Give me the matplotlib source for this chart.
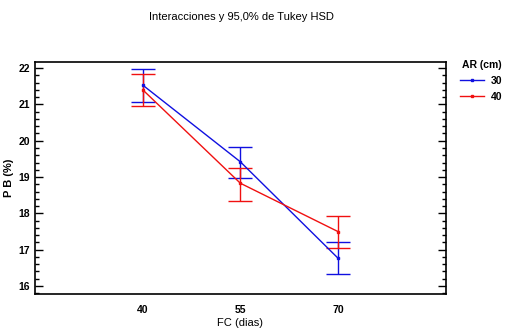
import matplotlib
matplotlib.use('Agg')
import matplotlib.pyplot as plt
from matplotlib.ticker import MultipleLocator
from matplotlib.lines import Line2D

plt.rcParams['font.family'] = ['Liberation Sans Narrow', 'Liberation Sans', 'DejaVu Sans']

fc = [40, 55, 70]
ar_labels = ['30', '40']
pb_30 = [21.53, 19.42, 16.77]
lo_30 = [21.08, 18.98, 16.33]
hi_30 = [21.98, 19.84, 17.22]
pb_40 = [21.40, 18.83, 17.50]
lo_40 = [20.96, 18.35, 17.05]
hi_40 = [21.83, 19.25, 17.94]
colors = ['#1010e0', '#f01010']

fig = plt.figure(figsize=(5.13, 3.32), dpi=100)
ax = fig.add_axes([0.068, 0.1145, 0.801, 0.699])

for pb, lo, hi, col in [(pb_30, lo_30, hi_30, colors[0]),
                        (pb_40, lo_40, hi_40, colors[1])]:
    err = [[p - l for p, l in zip(pb, lo)], [h - p for p, h in zip(pb, hi)]]
    ax.errorbar(fc, pb, yerr=err, color=col, lw=1, marker='s', ms=2,
                capsize=8.5, capthick=1, elinewidth=1)

ax.set_xlim(23.4, 86.6)
ax.set_ylim(15.78, 22.17)
ax.set_xticks(fc)
ax.yaxis.set_major_locator(MultipleLocator(1))
ax.yaxis.set_minor_locator(MultipleLocator(0.2))
ax.tick_params(axis='y', which='both', direction='in', left=True, right=True,
               labelsize=7.5, width=1)
ax.tick_params(axis='y', which='major', length=6)
ax.tick_params(axis='y', which='minor', length=3)
ax.tick_params(axis='x', length=0, labelsize=7.5, pad=8)
for t in ax.get_yticklabels() + ax.get_xticklabels():
    t.set_fontweight('bold')
for s in ax.spines.values():
    s.set_linewidth(1.2)

ax.set_xlabel('FC (dias)', fontsize=8, labelpad=2)
ax.set_ylabel('P B (%)', fontsize=8, fontweight='bold', labelpad=3)
fig.suptitle('Interacciones y 95,0% de Tukey HSD', fontsize=8, x=0.47, y=0.965)

handles = [Line2D([], [], color=c, lw=1, marker='s', ms=2) for c in colors]
leg = ax.legend(handles, ar_labels, title='AR (cm)', loc='upper left',
                bbox_to_anchor=(1.025, 1.025), frameon=False, fontsize=7.5,
                title_fontsize=7.5, handlelength=2.3, labelspacing=0.55,
                borderaxespad=0, handletextpad=0.6)
leg._legend_box.align = 'right'
for t in leg.get_texts():
    t.set_fontweight('bold')
leg.get_title().set_fontweight('bold')

fig.savefig('out.png', dpi=100)
